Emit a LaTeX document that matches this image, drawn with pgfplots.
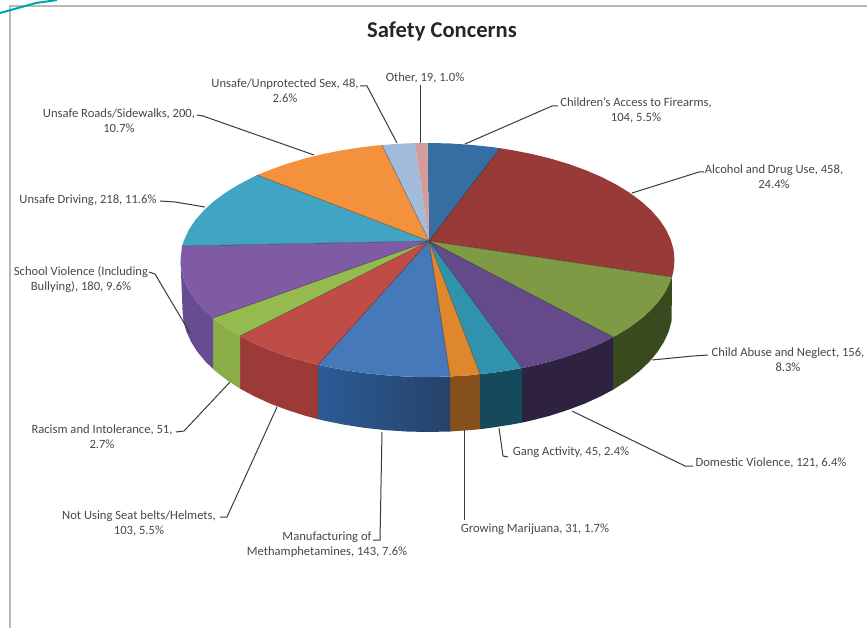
\documentclass[border=0pt]{standalone}
\usepackage{pgfplots}
\pgfplotsset{compat=1.18}
\usepackage{fontspec}
\setmainfont{Carlito}
\definecolor{txt}{HTML}{474747}
\definecolor{lead}{HTML}{3A3A3A}
\definecolor{greenwall}{HTML}{3A4A1F}
\definecolor{purplewall}{HTML}{2E2240}
\definecolor{tealwall}{HTML}{144A5C}
\definecolor{orangewall}{HTML}{85501C}
\definecolor{bluewallA}{HTML}{2B5C96}
\definecolor{bluewallB}{HTML}{264269}
\definecolor{redwall}{HTML}{9C3A37}
\definecolor{limewall}{HTML}{8AAD48}
\definecolor{violetwall}{HTML}{674C93}
\definecolor{firearms}{HTML}{366DA2}
\definecolor{alcohol}{HTML}{983B38}
\definecolor{abuse}{HTML}{7F9A44}
\definecolor{domestic}{HTML}{654A8A}
\definecolor{gang}{HTML}{3093AE}
\definecolor{marijuana}{HTML}{DF872C}
\definecolor{meth}{HTML}{4679BA}
\definecolor{seat}{HTML}{C04C48}
\definecolor{racism}{HTML}{95BA4E}
\definecolor{school}{HTML}{7F5BA6}
\definecolor{driving}{HTML}{42A4C3}
\definecolor{roads}{HTML}{F4913C}
\definecolor{sexc}{HTML}{A2BBDD}
\definecolor{otherc}{HTML}{D49C9B}
\pgfplotsset{
  slice/.style={draw=none,forget plot},
  leader/.style={color=lead,line width=1pt,forget plot},
}
\tikzset{lab/.style={font=\fontsize{12.6pt}{15pt}\selectfont,text=txt,align=center,inner sep=0pt}}
\begin{document}
\begin{tikzpicture}
\path[use as bounding box] (0,0) rectangle (867pt,628pt);
\begin{axis}[
  at={(0,0)},anchor=south west,
  width=867pt,height=628pt,scale only axis,
  xmin=0,xmax=867,ymin=0,ymax=628,y dir=reverse,
  hide axis,clip=true,
]
% frame and corner swoosh
\addplot[color=black!28,line width=2pt,forget plot] coordinates {(10,628)(10,6)(867,6)};
\addplot[color=teal!70!cyan,line width=2pt,forget plot] coordinates {(0,13)(18,8)(36,3)(57,0)};

% side walls (top rim, then bottom rim back)
\addplot[slice,fill=greenwall] coordinates {(672,277)(666.1,290.3)(659.6,300)(651.4,309.4)(641.4,318.5)(629.8,327.1)(616.7,335.2)(613,337)(613,389.7)(615.2,388.4)(628.2,380)(639.7,371)(649.5,361.6)(657.7,351.7)(664.1,341.6)(668.8,331.2)(671.6,320.6)} --cycle;
\addplot[slice,fill=purplewall] coordinates {(613,337)(602.2,342.7)(586.3,349.6)(569.2,355.8)(551,361.3)(531.9,366)(522,368)(522,422.6)(531,420.6)(550,415.7)(568,409.9)(585,403.5)(600.7,396.3)(613,389.7)} --cycle;
\addplot[slice,fill=tealwall] coordinates {(522,368)(512,369.9)(491.4,373)(480,374)(480,429.2)(490.9,427.8)(511.3,424.6)(522,422.6)} --cycle;
\addplot[slice,fill=orangewall] coordinates {(480,374)(470.4,375.2)(450,376.5)(450,431.5)(470,430.1)(480,429.2)} --cycle;
\addplot[slice,left color=bluewallA,right color=bluewallB] coordinates {(450,376.5)(427.5,377)(406,376.6)(384.6,375.2)(363.6,373)(343,369.9)(323.1,366)(318,365)(318,419.2)(324,420.6)(343.7,424.6)(364.1,427.8)(385,430.1)(406.1,431.5)(427.5,432)(450,431.5)} --cycle;
\addplot[slice,fill=redwall] coordinates {(318,365)(304,361.3)(285.8,355.8)(268.7,349.6)(252.8,342.7)(240,336)(240,388.6)(254.3,396.3)(270,403.5)(287,409.9)(305,415.7)(318,419.2)} --cycle;
\addplot[slice,fill=limewall] coordinates {(240,336)(225.2,327.1)(213,318)(213,368.9)(215.3,371)(226.8,380)(240,388.6)} --cycle;
\addplot[slice,fill=violetwall] coordinates {(213,318)(203.6,309.4)(195.4,300)(188.9,290.3)(184.3,280.3)(181.4,270.2)(180.5,260)(182.5,310)(183.4,320.6)(186.2,331.2)(190.9,341.6)(197.3,351.7)(205.5,361.6)(213,368.9)} --cycle;

% top face, clockwise from twelve o'clock
\addplot[slice,fill=firearms] coordinates {(429,241)(427.5,143)(449,143.4)(470.4,144.8)(491.4,147)(500,148.2)} --cycle;
\addplot[slice,fill=alcohol] coordinates {(429,241)(500,148.2)(512,150.1)(531.9,154)(551,158.7)(569.2,164.2)(586.3,170.4)(602.2,177.3)(616.7,184.8)(629.8,192.9)(641.4,201.5)(651.4,210.6)(659.6,220)(666.1,229.7)(670.7,239.7)(673.6,249.8)(674.5,260)(673.6,270.2)(672,277)} --cycle;
\addplot[slice,fill=abuse] coordinates {(429,241)(672,277)(666.1,290.3)(659.6,300)(651.4,309.4)(641.4,318.5)(629.8,327.1)(616.7,335.2)(613,337)} --cycle;
\addplot[slice,fill=domestic] coordinates {(429,241)(613,337)(602.2,342.7)(586.3,349.6)(569.2,355.8)(551,361.3)(531.9,366)(522,368)} --cycle;
\addplot[slice,fill=gang] coordinates {(429,241)(522,368)(512,369.9)(491.4,373)(480,374)} --cycle;
\addplot[slice,fill=marijuana] coordinates {(429,241)(480,374)(470.4,375.2)(450,376.5)} --cycle;
\addplot[slice,fill=meth] coordinates {(429,241)(450,376.5)(427.5,377)(406,376.6)(384.6,375.2)(363.6,373)(343,369.9)(323.1,366)(318,365)} --cycle;
\addplot[slice,fill=seat] coordinates {(429,241)(318,365)(304,361.3)(285.8,355.8)(268.7,349.6)(252.8,342.7)(240,336)} --cycle;
\addplot[slice,fill=racism] coordinates {(429,241)(240,336)(225.2,327.1)(213,318)} --cycle;
\addplot[slice,fill=school] coordinates {(429,241)(213,318)(203.6,309.4)(195.4,300)(188.9,290.3)(184.3,280.3)(181.4,270.2)(180.5,260)(182,246)} --cycle;
\addplot[slice,fill=driving] coordinates {(429,241)(182,246)(184.3,239.7)(188.9,229.7)(195.4,220)(203.6,210.6)(213.6,201.5)(225.2,192.9)(238.3,184.8)(252.8,177.3)(257,175)} --cycle;
\addplot[slice,fill=roads] coordinates {(429,241)(257,175)(268.7,170.4)(285.8,164.2)(304,158.7)(323.1,154)(343,150.1)(363.6,147)(382,145)} --cycle;
\addplot[slice,fill=sexc] coordinates {(429,241)(382,145)(406,143.4)(415,143.2)} --cycle;
\addplot[slice,fill=otherc] coordinates {(429,241)(415,143.2)(427.5,143)} --cycle;

% dark seams between the slices
\addplot[color=black,opacity=0.45,line width=0.5pt,forget plot] coordinates {(429,241)(500,148.2)(429,241)(672,277)(429,241)(613,337)(429,241)(522,368)(429,241)(480,374)(429,241)(450,376.5)(429,241)(318,365)(429,241)(240,336)(429,241)(213,318)(429,241)(182,246)(429,241)(257,175)(429,241)(382,145)};

% leader lines
\addplot[leader] coordinates {(420,85)(420,143)};
\addplot[leader] coordinates {(360,86)(367,86)(397,143)};
\addplot[leader] coordinates {(197,115)(203,116)(314,155)};
\addplot[leader] coordinates {(160,201)(175,202)(205,207)};
\addplot[leader] coordinates {(149,272)(155,274)(190,333)};
\addplot[leader] coordinates {(176,432)(184,431)(230,382)};
\addplot[leader] coordinates {(220,517)(227,517)(277,407)};
\addplot[leader] coordinates {(373,540)(380,540)(382,432)};
\addplot[leader] coordinates {(464,520)(464,430)};
\addplot[leader] coordinates {(499,428)(503,456)(508,457)};
\addplot[leader] coordinates {(572,411)(685,466)(693,466)};
\addplot[leader] coordinates {(652,360)(693,356)(708,355)};
\addplot[leader] coordinates {(632,193)(699,172)(704,172)};
\addplot[leader] coordinates {(465,144)(552,106)(558,106)};

% labels
\node[text=black!85,font=\fontsize{22.6pt}{24pt}\selectfont\bfseries,inner sep=0pt] at (axis cs:442,31) {Safety Concerns};
\node[lab] at (axis cs:425,78) {Other, 19, 1.0\%};
\node[lab] at (axis cs:285,90.5) {Unsafe/Unprotected Sex, 48,\\2.6\%};
\node[lab] at (axis cs:119,120.5) {Unsafe Roads/Sidewalks, 200,\\10.7\%};
\node[lab] at (axis cs:88,200) {Unsafe Driving, 218, 11.6\%};
\node[lab] at (axis cs:81,279.5) {School Violence (Including\\Bullying), 180, 9.6\%};
\node[lab] at (axis cs:102,436.5) {Racism and Intolerance, 51,\\2.7\%};
\node[lab] at (axis cs:139,523.5) {Not Using Seat belts/Helmets,\\103, 5.5\%};
\node[lab] at (axis cs:327,545) {Manufacturing of\\Methamphetamines, 143, 7.6\%};
\node[lab] at (axis cs:535,529) {Growing Marijuana, 31, 1.7\%};
\node[lab] at (axis cs:571,452) {Gang Activity, 45, 2.4\%};
\node[lab] at (axis cs:771,463) {Domestic Violence, 121, 6.4\%};
\node[lab] at (axis cs:788,360) {Child Abuse and Neglect, 156,\\8.3\%};
\node[lab] at (axis cs:774,176.5) {Alcohol and Drug Use, 458,\\24.4\%};
\node[lab] at (axis cs:636,110.5) {Children's Access to Firearms,\\104, 5.5\%};
\end{axis}
\end{tikzpicture}
\end{document}
